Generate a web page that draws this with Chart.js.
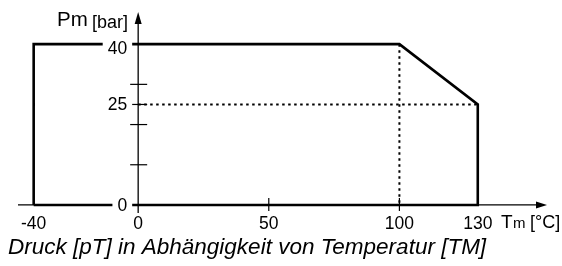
<!DOCTYPE html>
<html>
<head>
<meta charset="utf-8">
<script src="https://cdn.jsdelivr.net/npm/chart.js@4.4.1/dist/chart.umd.min.js"></script>
<style>
  html, body { margin: 0; padding: 0; background: #fff; }
  .chart { width: 562px; height: 266px; }
</style>
</head>
<body>
<div class="chart"><canvas id="chart"></canvas></div>
<script>
// Betriebsgrenze: Druck über Temperatur
const temperature = [-40, -40, 0, 100, 130, 130, -40]
const pressure = [0, 40, 40, 40, 25, 0, 0]
// Hilfslinien (gepunktet)
const guideVTemp = [100, 100]
const guideVPressure = [40, 0]
const guideHTemp = [0, 130]
const guideHPressure = [25, 25]
// Achsbeschriftung
const xTickLabels = [-40, 0, 50, 100, 130]
const xTickMarks = [50, 100]
const yTickMarks = [10, 20, 25, 30, 40]
const yTickLabels = [0, 25, 40]
const caption = "Druck [pT] in Abhängigkeit von Temperatur [TM]"

const FONT = '"Liberation Sans", Arial, sans-serif'

const toPoints = (xs, ys) => xs.map((x, i) => ({ x: x, y: ys[i] }))

const axesPlugin = {
  id: "axes",
  afterDatasetsDraw(chart) {
    const { ctx, chartArea, scales } = chart
    const x = scales.x
    const y = scales.y
    const x0 = x.getPixelForValue(0)
    const y0 = y.getPixelForValue(0)
    ctx.save()
    ctx.strokeStyle = "#000"
    ctx.fillStyle = "#000"
    ctx.lineWidth = 1.3

    // x axis + arrow
    ctx.beginPath()
    ctx.moveTo(chartArea.left, y0)
    ctx.lineTo(chartArea.right - 8, y0)
    ctx.stroke()
    ctx.beginPath()
    ctx.moveTo(chartArea.right, y0)
    ctx.lineTo(chartArea.right - 11, y0 - 3.5)
    ctx.lineTo(chartArea.right - 11, y0 + 3.5)
    ctx.closePath()
    ctx.fill()

    // y axis + arrow
    ctx.beginPath()
    ctx.moveTo(x0, chartArea.bottom)
    ctx.lineTo(x0, chartArea.top + 8)
    ctx.stroke()
    ctx.beginPath()
    ctx.moveTo(x0, chartArea.top)
    ctx.lineTo(x0 - 3.5, chartArea.top + 12)
    ctx.lineTo(x0 + 3.5, chartArea.top + 12)
    ctx.closePath()
    ctx.fill()

    // tick marks
    ctx.lineWidth = 1.2
    yTickMarks.forEach((v) => {
      const py = y.getPixelForValue(v)
      ctx.beginPath()
      ctx.moveTo(x0 - 8, py)
      ctx.lineTo(x0 + 9, py)
      ctx.stroke()
    })
    xTickMarks.forEach((v) => {
      const px = x.getPixelForValue(v)
      ctx.beginPath()
      ctx.moveTo(px, y0 - 7)
      ctx.lineTo(px, y0 + 6)
      ctx.stroke()
    })

    // y tick labels with white gap in the line
    ctx.font = "17.5px " + FONT
    ctx.textAlign = "right"
    ctx.textBaseline = "middle"
    yTickLabels.forEach((v) => {
      const py = y.getPixelForValue(v)
      const w = ctx.measureText(String(v)).width
      ctx.fillStyle = "#fff"
      ctx.fillRect(x0 - 12 - w - 4, py - 4, w + 10, 8)
      ctx.fillStyle = "#000"
      ctx.fillText(String(v), x0 - 11, v === 40 ? py + 5 : py + 1)
    })

    // x tick labels
    ctx.textAlign = "center"
    ctx.textBaseline = "alphabetic"
    xTickLabels.forEach((v) => {
      const px = x.getPixelForValue(v)
      ctx.fillText(String(v), px, y0 + 24)
    })

    // axis titles
    ctx.textAlign = "left"
    ctx.font = "20.5px " + FONT
    ctx.fillText("Pm", 57, 26)
    ctx.font = "18px " + FONT
    ctx.fillText("[bar]", 92, 28)

    ctx.font = "19px " + FONT
    ctx.fillText("T", 501, 228)
    ctx.font = "15px " + FONT
    ctx.fillText("m", 513, 228)
    ctx.font = "18px " + FONT
    ctx.fillText("[°C]", 530, 228)

    // caption
    ctx.font = "italic 22.5px " + FONT
    ctx.fillText(caption, 8, 254)
    ctx.restore()
  },
}

const lineStyle = {
  borderColor: "#000",
  pointRadius: 0,
  tension: 0,
  fill: false,
  clip: false,
}

const ctx = document.getElementById("chart").getContext("2d")

new Chart(ctx, {
  type: "scatter",
  data: {
    datasets: [
      {
        ...lineStyle,
        label: "Grenze",
        data: toPoints(temperature, pressure),
        showLine: true,
        borderWidth: 2.6,
        borderJoinStyle: "miter",
      },
      {
        ...lineStyle,
        label: "100 °C",
        data: toPoints(guideVTemp, guideVPressure),
        showLine: true,
        borderWidth: 2,
        borderDash: [2.5, 3.5],
      },
      {
        ...lineStyle,
        label: "25 bar",
        data: toPoints(guideHTemp, guideHPressure),
        showLine: true,
        borderWidth: 2,
        borderDash: [2.5, 3.5],
      },
    ],
  },
  options: {
    responsive: true,
    maintainAspectRatio: false,
    animation: false,
    layout: {
      padding: { left: 18, right: 15, top: 12, bottom: 53 },
    },
    plugins: {
      legend: { display: false },
      tooltip: { enabled: false },
    },
    scales: {
      x: { type: "linear", display: false, min: -46, max: 156.5 },
      y: { type: "linear", display: false, min: -2, max: 48 },
    },
  },
  plugins: [axesPlugin],
})
</script>
</body>
</html>
